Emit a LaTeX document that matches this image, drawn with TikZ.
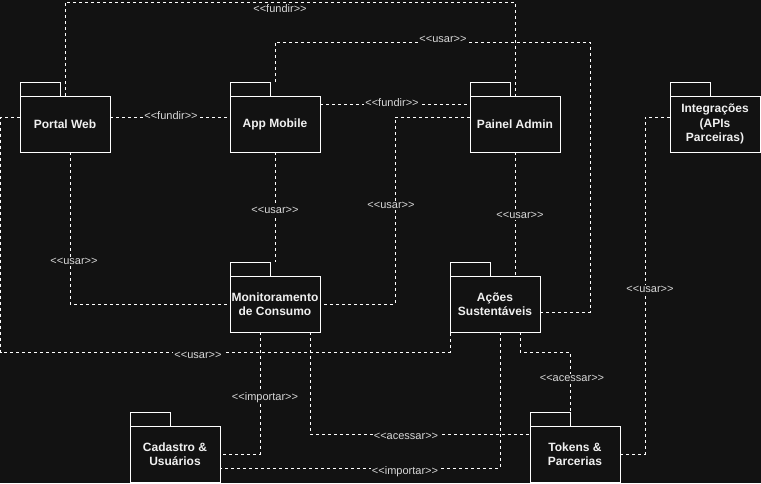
\documentclass[tikz,border=0pt]{standalone}
\usepackage{fontspec}
\setmainfont{Liberation Sans}
\usetikzlibrary{positioning}
\definecolor{bg}{HTML}{121212}
\definecolor{fg}{HTML}{F0F0F0}
\definecolor{lblgray}{HTML}{D8D8D8}
\tikzset{
	pkgbody/.style={draw=white, line width=1pt, fill=bg, outer sep=0pt, inner sep=0pt,
		minimum width=90pt, minimum height=56pt, align=center, text=fg,
		font=\bfseries\fontsize{12}{14.5}\selectfont},
	pkgtab/.style={draw=white, line width=1pt, fill=bg, outer sep=0pt, inner sep=0pt,
		minimum width=40pt, minimum height=14pt, anchor=south west},
	dep/.style={draw=white, line width=0.9pt, dash pattern=on 3pt off 3pt},
	lbl/.style={fill=bg, inner sep=1pt, text=lblgray, font=\fontsize{11}{13}\selectfont}
}
\newcommand{\pkg}[3]{
	\node [pkgbody] (#1) at (#2) {#3};
	\node [pkgtab] (#1-tab) at (#1.north west) {}
}
\newcommand{\stereo}[1]{<\kern0pt<#1>\kern0pt>}

\begin{document}
\begin{tikzpicture}[x=1pt,y=-1pt]
	\fill [bg] (0,0) rectangle (761,483);
	\useasboundingbox (0,0) rectangle (761,483);

	% packages
	\pkg {pw}{65,124}{Portal Web};
	\pkg {am}{275,124}{App Mobile};
	\pkg {pa}{515,124}{Painel Admin};
	\pkg {ig}{715,124}{Integrações\\(APIs\\Parceiras)};
	\pkg {mc}{275,304}{Monitoramento\\de Consumo};
	\pkg {as}{495,304}{Ações\\Sustentáveis};
	\pkg {cu}{175,454}{Cadastro \&\\Usuários};
	\pkg {tp}{575,454}{Tokens \&\\Parcerias};

	% dependencies
	\draw [dep] (pw.north) |- (515,2) -- (pa.north);
	\draw [dep] (am.north |- am-tab.north) |- (590,42) |- ([yshift=-8pt]as.east);
	\draw [dep] ([yshift=7pt]pw.east) -- ([yshift=7pt]am.west);
	\draw [dep] ([yshift=20pt]am.east) -- ([yshift=20pt]pa.west);
	\draw [dep] ([yshift=7pt]pa.west) -| ([xshift=75pt]mc.east) -- (mc.east);
	\draw [dep] ([yshift=7pt]ig.west) -| ([xshift=25pt]tp.east) -- (tp.east);
	\draw [dep] (am.south) -- (mc.north |- mc-tab.north);
	\draw [dep] ([xshift=5pt]pw.south) |- (mc.west);
	\draw [dep] (pa.south) -- (pa.south |- as.north);
	\draw [dep] ([yshift=7pt]pw.west) -- ++(-19.5,0) |- ([yshift=-20pt]as.south west) -- (as.south west);
	\draw [dep] ([xshift=-15pt]mc.south) |- (cu.east);
	\draw [dep] ([xshift=35pt]mc.south) |- ([yshift=20pt]tp.west);
	\draw [dep] ([xshift=5pt]as.south) |- ([yshift=-14pt]cu.east);
	\draw [dep] ([xshift=25pt]as.south) -- ++(0,20) -| (tp-tab.north east);

	% stereotype labels
	\node [lbl] (l1) at (280,8.5) {\stereo{fundir}};
	\node [lbl] (l2) at (443,39.5) {\stereo{usar}};
	\node [lbl] (l3) at (171,115.5) {\stereo{fundir}};
	\node [lbl] (l4) at (392,102.5) {\stereo{fundir}};
	\node [lbl] (l5) at (391,205.5) {\stereo{usar}};
	\node [lbl] (l6) at (275,210.5) {\stereo{usar}};
	\node [lbl] (l7) at (74,261.5) {\stereo{usar}};
	\node [lbl] (l8) at (520,215.5) {\stereo{usar}};
	\node [lbl] (l9) at (650,289.5) {\stereo{usar}};
	\node [lbl] (l10) at (198,355.5) {\stereo{usar}};
	\node [lbl] (l11) at (265,397.5) {\stereo{importar}};
	\node [lbl] (l12) at (406,436.5) {\stereo{acessar}};
	\node [lbl] (l13) at (405,471.5) {\stereo{importar}};
	\node [lbl] (l14) at (572,378.5) {\stereo{acessar}};
\end{tikzpicture}
\end{document}
